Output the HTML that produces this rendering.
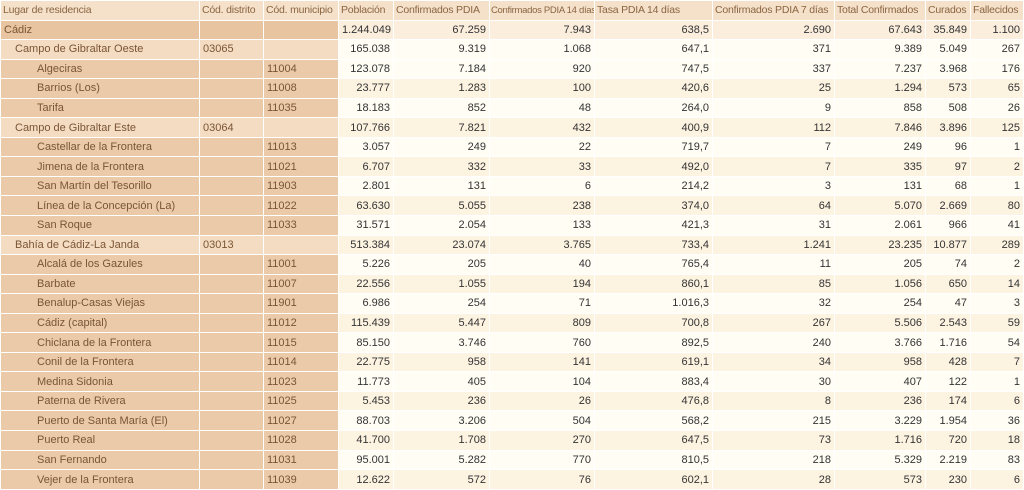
<!DOCTYPE html><html><head><meta charset="utf-8"><style>
body{margin:0;background:#fff;width:1024px;height:490px;overflow:hidden}
table{border-collapse:collapse;table-layout:fixed;width:1023px;height:490px;font-family:"Liberation Sans",sans-serif;font-size:11px}
td{border:1px solid #fff;padding:0 3px;white-space:nowrap;overflow:hidden;color:#333;text-align:right}
tr.h td{background:#f5e0ca;color:#8a6642;text-align:left;font-size:10.5px;letter-spacing:-0.2px;padding:0 2px}
tr.h td.s{font-size:9.5px;letter-spacing:-0.3px;padding:0 0 0 1px}
td.l{text-align:left;color:#7a5534}
tr.a td.l{background:#eacaa9}
tr.b td.l{background:#f4dcc3}
tr.a td.n{background:#fffdf4}
tr.c td.n{background:#fdf3e1}
tr.top td.l{background:#e8c4a1}
tr.top td.n{background:#fbeedd}
.p1{padding-left:14px}.p2{padding-left:36px}
</style></head><body>
<table>
<colgroup><col style="width:199px"><col style="width:64px"><col style="width:75px"><col style="width:55px"><col style="width:96px"><col style="width:105px"><col style="width:118px"><col style="width:122px"><col style="width:91px"><col style="width:45px"><col style="width:53px"></colgroup>
<tr class="h"><td>Lugar de residencia</td><td>Cód. distrito</td><td>Cód. municipio</td><td>Población</td><td>Confirmados PDIA</td><td class="s">Confirmados PDIA 14 días</td><td>Tasa PDIA 14 días</td><td>Confirmados PDIA 7 días</td><td>Total Confirmados</td><td>Curados</td><td>Fallecidos</td></tr>
<tr class="top"><td class="l">Cádiz</td><td class="l"></td><td class="l"></td><td class="n">1.244.049</td><td class="n">67.259</td><td class="n">7.943</td><td class="n">638,5</td><td class="n">2.690</td><td class="n">67.643</td><td class="n">35.849</td><td class="n">1.100</td></tr>
<tr class="b a"><td class="l p1">Campo de Gibraltar Oeste</td><td class="l">03065</td><td class="l"></td><td class="n">165.038</td><td class="n">9.319</td><td class="n">1.068</td><td class="n">647,1</td><td class="n">371</td><td class="n">9.389</td><td class="n">5.049</td><td class="n">267</td></tr>
<tr class="a"><td class="l p2">Algeciras</td><td class="l"></td><td class="l">11004</td><td class="n">123.078</td><td class="n">7.184</td><td class="n">920</td><td class="n">747,5</td><td class="n">337</td><td class="n">7.237</td><td class="n">3.968</td><td class="n">176</td></tr>
<tr class="a c"><td class="l p2">Barrios (Los)</td><td class="l"></td><td class="l">11008</td><td class="n">23.777</td><td class="n">1.283</td><td class="n">100</td><td class="n">420,6</td><td class="n">25</td><td class="n">1.294</td><td class="n">573</td><td class="n">65</td></tr>
<tr class="a"><td class="l p2">Tarifa</td><td class="l"></td><td class="l">11035</td><td class="n">18.183</td><td class="n">852</td><td class="n">48</td><td class="n">264,0</td><td class="n">9</td><td class="n">858</td><td class="n">508</td><td class="n">26</td></tr>
<tr class="b c"><td class="l p1">Campo de Gibraltar Este</td><td class="l">03064</td><td class="l"></td><td class="n">107.766</td><td class="n">7.821</td><td class="n">432</td><td class="n">400,9</td><td class="n">112</td><td class="n">7.846</td><td class="n">3.896</td><td class="n">125</td></tr>
<tr class="a"><td class="l p2">Castellar de la Frontera</td><td class="l"></td><td class="l">11013</td><td class="n">3.057</td><td class="n">249</td><td class="n">22</td><td class="n">719,7</td><td class="n">7</td><td class="n">249</td><td class="n">96</td><td class="n">1</td></tr>
<tr class="a c"><td class="l p2">Jimena de la Frontera</td><td class="l"></td><td class="l">11021</td><td class="n">6.707</td><td class="n">332</td><td class="n">33</td><td class="n">492,0</td><td class="n">7</td><td class="n">335</td><td class="n">97</td><td class="n">2</td></tr>
<tr class="a"><td class="l p2">San Martín del Tesorillo</td><td class="l"></td><td class="l">11903</td><td class="n">2.801</td><td class="n">131</td><td class="n">6</td><td class="n">214,2</td><td class="n">3</td><td class="n">131</td><td class="n">68</td><td class="n">1</td></tr>
<tr class="a c"><td class="l p2">Línea de la Concepción (La)</td><td class="l"></td><td class="l">11022</td><td class="n">63.630</td><td class="n">5.055</td><td class="n">238</td><td class="n">374,0</td><td class="n">64</td><td class="n">5.070</td><td class="n">2.669</td><td class="n">80</td></tr>
<tr class="a"><td class="l p2">San Roque</td><td class="l"></td><td class="l">11033</td><td class="n">31.571</td><td class="n">2.054</td><td class="n">133</td><td class="n">421,3</td><td class="n">31</td><td class="n">2.061</td><td class="n">966</td><td class="n">41</td></tr>
<tr class="b c"><td class="l p1">Bahía de Cádiz-La Janda</td><td class="l">03013</td><td class="l"></td><td class="n">513.384</td><td class="n">23.074</td><td class="n">3.765</td><td class="n">733,4</td><td class="n">1.241</td><td class="n">23.235</td><td class="n">10.877</td><td class="n">289</td></tr>
<tr class="a"><td class="l p2">Alcalá de los Gazules</td><td class="l"></td><td class="l">11001</td><td class="n">5.226</td><td class="n">205</td><td class="n">40</td><td class="n">765,4</td><td class="n">11</td><td class="n">205</td><td class="n">74</td><td class="n">2</td></tr>
<tr class="a c"><td class="l p2">Barbate</td><td class="l"></td><td class="l">11007</td><td class="n">22.556</td><td class="n">1.055</td><td class="n">194</td><td class="n">860,1</td><td class="n">85</td><td class="n">1.056</td><td class="n">650</td><td class="n">14</td></tr>
<tr class="a"><td class="l p2">Benalup-Casas Viejas</td><td class="l"></td><td class="l">11901</td><td class="n">6.986</td><td class="n">254</td><td class="n">71</td><td class="n">1.016,3</td><td class="n">32</td><td class="n">254</td><td class="n">47</td><td class="n">3</td></tr>
<tr class="a c"><td class="l p2">Cádiz (capital)</td><td class="l"></td><td class="l">11012</td><td class="n">115.439</td><td class="n">5.447</td><td class="n">809</td><td class="n">700,8</td><td class="n">267</td><td class="n">5.506</td><td class="n">2.543</td><td class="n">59</td></tr>
<tr class="a"><td class="l p2">Chiclana de la Frontera</td><td class="l"></td><td class="l">11015</td><td class="n">85.150</td><td class="n">3.746</td><td class="n">760</td><td class="n">892,5</td><td class="n">240</td><td class="n">3.766</td><td class="n">1.716</td><td class="n">54</td></tr>
<tr class="a c"><td class="l p2">Conil de la Frontera</td><td class="l"></td><td class="l">11014</td><td class="n">22.775</td><td class="n">958</td><td class="n">141</td><td class="n">619,1</td><td class="n">34</td><td class="n">958</td><td class="n">428</td><td class="n">7</td></tr>
<tr class="a"><td class="l p2">Medina Sidonia</td><td class="l"></td><td class="l">11023</td><td class="n">11.773</td><td class="n">405</td><td class="n">104</td><td class="n">883,4</td><td class="n">30</td><td class="n">407</td><td class="n">122</td><td class="n">1</td></tr>
<tr class="a c"><td class="l p2">Paterna de Rivera</td><td class="l"></td><td class="l">11025</td><td class="n">5.453</td><td class="n">236</td><td class="n">26</td><td class="n">476,8</td><td class="n">8</td><td class="n">236</td><td class="n">174</td><td class="n">6</td></tr>
<tr class="a"><td class="l p2">Puerto de Santa María (El)</td><td class="l"></td><td class="l">11027</td><td class="n">88.703</td><td class="n">3.206</td><td class="n">504</td><td class="n">568,2</td><td class="n">215</td><td class="n">3.229</td><td class="n">1.954</td><td class="n">36</td></tr>
<tr class="a c"><td class="l p2">Puerto Real</td><td class="l"></td><td class="l">11028</td><td class="n">41.700</td><td class="n">1.708</td><td class="n">270</td><td class="n">647,5</td><td class="n">73</td><td class="n">1.716</td><td class="n">720</td><td class="n">18</td></tr>
<tr class="a"><td class="l p2">San Fernando</td><td class="l"></td><td class="l">11031</td><td class="n">95.001</td><td class="n">5.282</td><td class="n">770</td><td class="n">810,5</td><td class="n">218</td><td class="n">5.329</td><td class="n">2.219</td><td class="n">83</td></tr>
<tr class="a c"><td class="l p2">Vejer de la Frontera</td><td class="l"></td><td class="l">11039</td><td class="n">12.622</td><td class="n">572</td><td class="n">76</td><td class="n">602,1</td><td class="n">28</td><td class="n">573</td><td class="n">230</td><td class="n">6</td></tr>
</table>
</body></html>
